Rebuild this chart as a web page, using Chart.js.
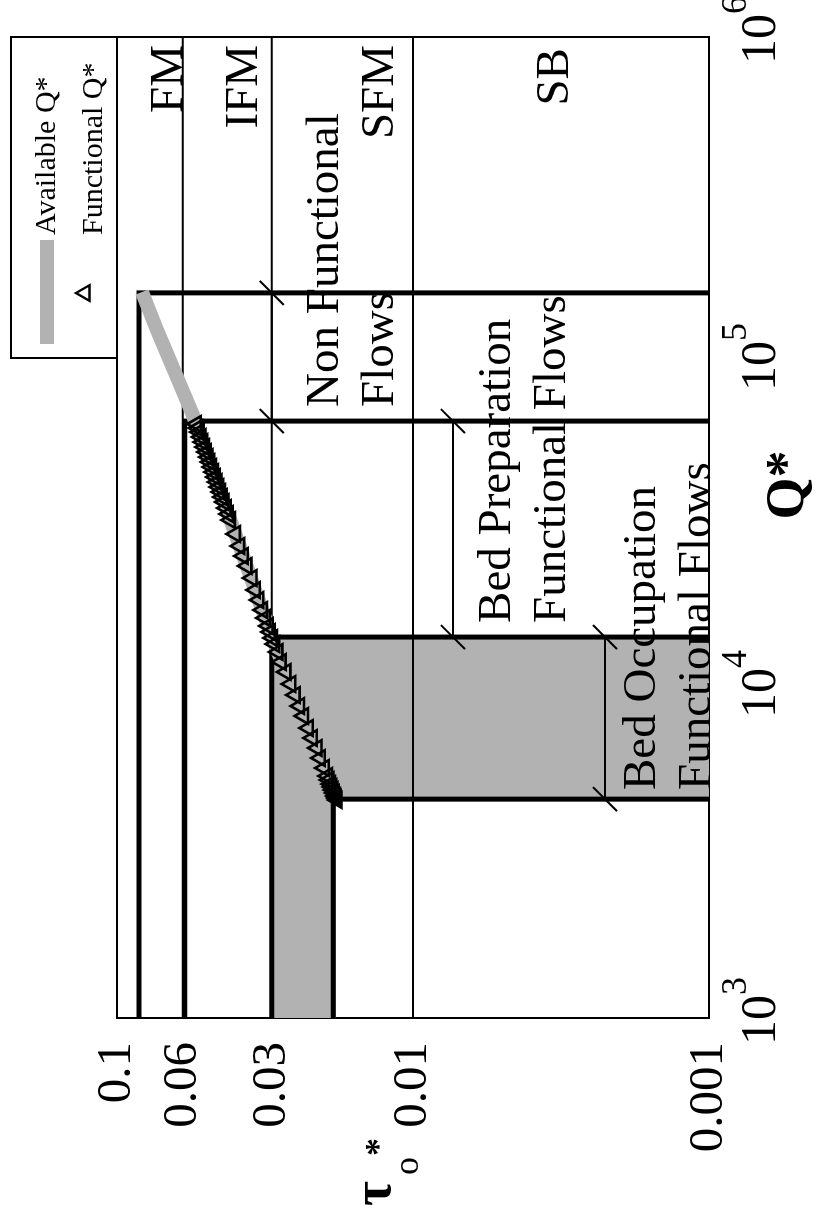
<!DOCTYPE html>
<html><head><meta charset="utf-8">
<script src="https://cdn.jsdelivr.net/npm/chart.js@4"></script>
<style>
html,body{margin:0;padding:0;background:#fff;overflow:hidden;width:821px;height:1220px;}
#wrap{position:absolute;left:0;top:0;width:1220px;height:821px;transform-origin:0 0;transform:translate(0px,1220px) rotate(-90deg);background:#fff;}
</style></head><body>
<div id="wrap"><canvas id="c" width="1220" height="821"></canvas></div>
<script>
// ---- axis ticks ----
const qTicks = [1e3, 1e4, 1e5, 1e6];
const qExponents = ['3', '4', '5', '6'];
const tauTicks = [0.1, 0.06, 0.03, 0.01, 0.001];
const tauTickLabels = ['0.1', '0.06', '0.03', '0.01', '0.001'];
// regime boundaries (thin lines across the whole Q range)
const regimeTau = [0.06, 0.03, 0.01];
// threshold L-lines (thick)
const thresholdQ = [165000, 66900, 14620, 4670];
const thresholdTau = [0.0843, 0.059, 0.030, 0.0186];
// Available Q*
const availQ = [4670, 9720, 14500, 30200, 69800, 127000, 166000];
const availTau = [0.0183, 0.0250, 0.0299, 0.0398, 0.0554, 0.0733, 0.0823];
// Functional Q*
const funcQ = [4642,4708,4774,4877,4980,5087,5194,5344,5497,5815,6238,6694,7183,7706,8385,8996,9723,10505,11434,12268,13160,13920,14526,15152,15810,16723,17690,18980,20370,22160,24120,25870,27760,30210,33330,34780,36270,37840,39200,40600,42060,43560,45120,46730,48420,50150,51940,53800,55730,57730,59810,61940,63720,65530];
const funcTau = [0.01806,0.01817,0.01829,0.01846,0.01864,0.01881,0.01899,0.01923,0.01947,0.01995,0.02058,0.02110,0.02189,0.02258,0.02344,0.02417,0.02502,0.02589,0.02688,0.02790,0.02860,0.02933,0.02985,0.03036,0.03086,0.03157,0.03227,0.03318,0.03410,0.03500,0.03642,0.03746,0.03853,0.03981,0.04139,0.04207,0.04279,0.04350,0.04412,0.04471,0.04534,0.04598,0.04663,0.04725,0.04792,0.04860,0.04924,0.04994,0.05064,0.05136,0.05209,0.05278,0.05336,0.05399];
// shaded Bed Occupation region (polygon vertices)
const fillQ = [1000, 14620, 14620, 4670, 4670, 1000];
const fillTau = [0.03, 0.03, 0.001, 0.001, 0.0182, 0.0182];
// dimension lines: [Qstart, Qend] at tau
const dimQStart = [66900, 14620, 4670];
const dimQEnd = [165000, 66900, 14620];
const dimTau = [0.030, 0.00733, 0.002245];
// labels
const zoneLabels = ['FM', 'IFM', 'SFM', 'SB'];
const zoneLabelQ = [945000, 945000, 945000, 925000];
const zoneLabelTau = [0.0605, 0.0337, 0.0117, 0.0030];
const flowLabels = [['Non Functional', 'Flows'], ['Bed Preparation', 'Functional Flows'], ['Bed Occupation', 'Functional Flows']];
const flowLabelQ = [73900, 16150, 4980];
const flowLabelTau = [0.01792, 0.0047, 0.001522];
const legendLabels = ['Available Q*', 'Functional Q*'];

const GRAY = '#b2b2b2';
const pts = (xs, ys) => xs.map((x, i) => ({x: x, y: ys[i]}));

const datasets = [];
datasets.push({label: 'fill', data: pts(fillQ, fillTau), fill: 'shape', backgroundColor: GRAY,
  borderWidth: 0, pointRadius: 0, order: 10});
regimeTau.forEach(t => datasets.push({label: 'regime', data: [{x: 1e3, y: t}, {x: 1e6, y: t}],
  borderColor: '#000', borderWidth: 2, pointRadius: 0, fill: false, order: 9}));
dimQStart.forEach((q, i) => datasets.push({label: 'dim', data: [{x: q, y: dimTau[i]}, {x: dimQEnd[i], y: dimTau[i]}],
  borderColor: '#000', borderWidth: 2, pointRadius: 17, pointStyle: 'line', rotation: -45,
  pointBorderColor: '#000', pointBorderWidth: 2, fill: false, order: 8, clip: false}));
thresholdQ.forEach((q, i) => datasets.push({label: 'threshold',
  data: [{x: 1e3, y: thresholdTau[i]}, {x: q, y: thresholdTau[i]}, {x: q, y: 0.001}],
  borderColor: '#000', borderWidth: 5, pointRadius: 0, fill: false, order: 7, borderJoinStyle: 'miter'}));
datasets.push({label: legendLabels[0], data: pts(availQ, availTau), borderColor: GRAY, borderWidth: 14,
  pointRadius: 0, fill: false, order: 3});
datasets.push({label: legendLabels[1], data: pts(funcQ, funcTau), showLine: false, pointStyle: 'triangle',
  pointRadius: 9, pointBorderColor: '#000', pointBackgroundColor: 'rgba(0,0,0,0)', pointBorderWidth: 2.6, order: 1});

const SERIF = '"Liberation Serif", "Times New Roman", serif';

const deco = {
  id: 'deco',
  afterDraw(chart) {
    const ctx = chart.ctx, xs = chart.scales.x, ys = chart.scales.y;
    ctx.save();
    ctx.fillStyle = '#000';
    // tau tick labels
    ctx.font = '49px ' + SERIF; ctx.textAlign = 'right'; ctx.textBaseline = 'middle';
    tauTicks.forEach((t, i) => ctx.fillText(tauTickLabels[i], 178, ys.getPixelForValue(t)));
    // Q tick labels with superscript
    ctx.textBaseline = 'alphabetic';
    qTicks.forEach((q, i) => {
      const x = xs.getPixelForValue(q);
      ctx.textAlign = 'left';
      ctx.font = '50px ' + SERIF; ctx.fillText('10', x - 27, 775);
      ctx.font = '36px ' + SERIF; ctx.fillText(qExponents[i], x + 23, 746);
    });
    // axis titles
    ctx.font = 'bold 54px ' + SERIF; ctx.textAlign = 'center';
    ctx.fillText('Q*', 735, 803);
    ctx.textAlign = 'left';
    ctx.font = 'bold 54px ' + SERIF; ctx.fillText('τ', 14, 390);
    ctx.font = '36px ' + SERIF; ctx.fillText('o', 45, 418);
    ctx.font = 'bold 36px ' + SERIF; ctx.fillText('*', 64, 390);
    // zone labels
    ctx.font = '47px ' + SERIF; ctx.textAlign = 'right';
    zoneLabels.forEach((s, i) => ctx.fillText(s, xs.getPixelForValue(zoneLabelQ[i]), ys.getPixelForValue(zoneLabelTau[i])));
    ctx.textAlign = 'left';
    flowLabels.forEach((lines, i) => {
      const x = xs.getPixelForValue(flowLabelQ[i]), y = ys.getPixelForValue(flowLabelTau[i]);
      lines.forEach((s, j) => ctx.fillText(s, x, y + 55 * j));
    });
    // legend box
    ctx.lineWidth = 2; ctx.strokeStyle = '#000';
    ctx.strokeRect(862, 11, 321, 106);
    const dsA = chart.data.datasets.find(d => d.label === legendLabels[0]);
    const dsF = chart.data.datasets.find(d => d.label === legendLabels[1]);
    ctx.strokeStyle = dsA.borderColor; ctx.lineWidth = 14;
    ctx.beginPath(); ctx.moveTo(876, 47); ctx.lineTo(980, 47); ctx.stroke();
    ctx.strokeStyle = dsF.pointBorderColor; ctx.lineWidth = 2.4;
    ctx.fillStyle = 'rgba(0,0,0,0)';
    Chart.helpers.drawPoint(ctx, {pointStyle: dsF.pointStyle, radius: 9, rotation: 0, borderWidth: 2.4}, 927, 85);
    ctx.fillStyle = '#000';
    ctx.font = '30px ' + SERIF; ctx.textAlign = 'left';
    ctx.fillText(legendLabels[0], 985, 55);
    ctx.fillText(legendLabels[1], 985, 102);
    ctx.restore();
  }
};

new Chart(document.getElementById('c'), {
  type: 'line',
  data: {datasets: datasets},
  options: {
    responsive: false, animation: false, devicePixelRatio: 1,
    layout: {padding: {top: 117, right: 37, bottom: 0, left: 0}},
    elements: {line: {tension: 0}},
    plugins: {legend: {display: false}, tooltip: {enabled: false}},
    scales: {
      x: {type: 'logarithmic', min: 1e3, max: 1e6,
        afterBuildTicks: s => { s.ticks = [{value: 1e3}, {value: 1e6}]; },
        afterFit: s => { s.height = 112; },
        ticks: {display: false},
        grid: {color: '#000', lineWidth: 2, drawTicks: false},
        border: {display: true, color: '#000', width: 2}},
      y: {type: 'logarithmic', min: 0.001, max: 0.1,
        afterBuildTicks: s => { s.ticks = [{value: 0.001}, {value: 0.1}]; },
        afterFit: s => { s.width = 202; },
        ticks: {display: false},
        grid: {color: '#000', lineWidth: 2, drawTicks: false},
        border: {display: true, color: '#000', width: 2}}
    }
  },
  plugins: [deco]
});
</script>
</body></html>
